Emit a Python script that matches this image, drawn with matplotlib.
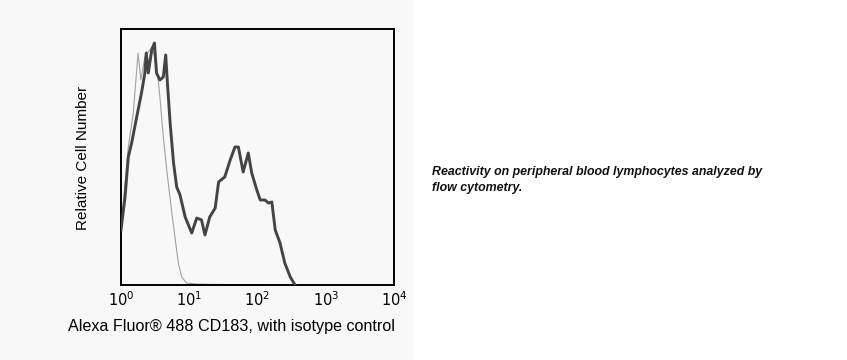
"""
Flow cytometry histogram - CD183 with isotype control
"""
import numpy as np
import matplotlib.pyplot as plt
from matplotlib.patches import Rectangle

plt.rcParams["font.family"] = ["Liberation Sans", "DejaVu Sans"]

# ===================== data (log10 fluorescence, relative count) =====================
cd183_log = [0.0, 0.059, 0.107, 0.156, 0.23, 0.30, 0.35, 0.37, 0.40, 0.45, 0.49, 0.52,
             0.57, 0.62, 0.655, 0.68, 0.72, 0.77, 0.816, 0.865, 0.94, 1.036, 1.11, 1.18,
             1.23, 1.30, 1.38, 1.43, 1.52, 1.60, 1.67, 1.72, 1.79, 1.865, 1.915, 1.99,
             2.04, 2.11, 2.16, 2.21, 2.26, 2.33, 2.40, 2.48, 2.55]
cd183_cnt = [55, 88, 128, 142, 168, 192, 212, 232, 212, 235, 242, 212,
             205, 208, 230, 202, 162, 122, 98, 90, 68, 52, 67, 65,
             50, 68, 77, 103, 108, 125, 138, 138, 113, 132, 112, 95,
             85, 85, 82, 83, 55, 42, 22, 8, 0]

iso_log = [0.0, 0.107, 0.18, 0.25, 0.29, 0.35, 0.45, 0.52, 0.57, 0.62, 0.67, 0.74,
           0.79, 0.84, 0.89, 0.96, 1.1, 1.3, 1.6, 2.0, 2.5]
iso_cnt = [55, 138, 172, 232, 205, 228, 238, 222, 188, 148, 115, 75,
           48, 22, 8, 2, 1, 0.6, 0.4, 0.2, 0]

x_ticks = [1, 10, 100, 1000, 10000]
x_labels = ["$10^0$", "$10^1$", "$10^2$", "$10^3$", "$10^4$"]

# ===================== figure =====================
fig = plt.figure(figsize=(8.47, 3.6), dpi=100)
bg = Rectangle((0, 0), 413 / 847, 1, transform=fig.transFigure,
               facecolor="#f8f8f8", edgecolor="none", zorder=-10)
fig.patches.append(bg)

ax = fig.add_axes([121 / 847, 1 - 285 / 360, 273 / 847, 256 / 360])
ax.set_zorder(5)
ax.set_facecolor("#f8f8f8")
ax.set_xscale("log")
ax.set_xlim(1, 10000)
ax.set_ylim(0, 256)

ax.plot(10 ** np.array(iso_log), iso_cnt, color="#a0a0a0", linewidth=0.8, zorder=2)
ax.plot(10 ** np.array(cd183_log), cd183_cnt, color="#444444", linewidth=2.1, zorder=3)

ax.set_xticks(x_ticks)
ax.set_xticklabels(x_labels, fontsize=10.5)
ax.minorticks_off()
ax.tick_params(axis="x", length=0, pad=4)
ax.set_yticks([])
for s in ax.spines.values():
    s.set_linewidth(1.4)
    s.set_color("black")

fig.text(231 / 847, 1 - 326 / 360, "Alexa Fluor\u00ae 488 CD183, with isotype control",
         fontsize=11.6, ha="center", va="center")
fig.text(83 / 847, 1 - 158 / 360, "Relative Cell Number",
         fontsize=11, rotation=90, ha="center", va="center")

fig.text(432 / 847, 1 - 180 / 360,
         "Reactivity on peripheral blood lymphocytes analyzed by\nflow cytometry.",
         fontsize=8.9, fontweight="bold", fontstyle="italic", color="#111111",
         va="center", ha="left", linespacing=1.45)

fig.savefig("out.png", dpi=100)
